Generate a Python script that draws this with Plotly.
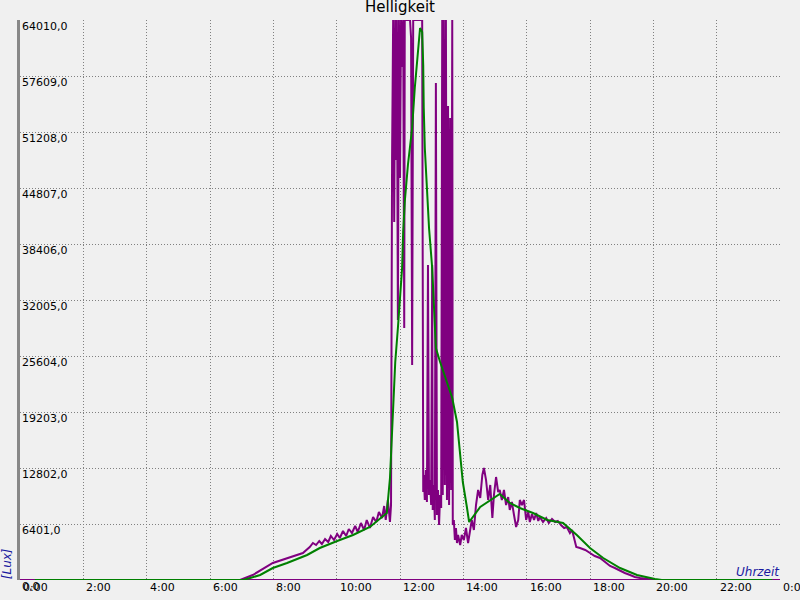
import plotly.graph_objects as go

# --- data (time in minutes since midnight, brightness in lux) ---
green_min = [28, 423, 436, 455, 479, 506, 544, 568, 601, 631, 663, 695, 701, 705, 707, 711, 716, 720,
             724, 726, 729, 735, 743, 748, 754, 758, 762, 764, 765, 767, 771, 775, 781, 784, 788, 796,
             809, 819, 828, 834, 839, 847, 851, 872, 891, 909, 928, 947, 972, 999, 1029, 1055, 1080,
             1105, 1137, 1169, 1203, 1216, 1425]
green_lux = [0, 0, 229, 572, 1372, 1943, 2858, 3658, 4458, 5144, 6058, 7658, 11659, 16574, 20003, 24919,
             28804, 32233, 35663, 39778, 43207, 47436, 51666, 56238, 60810, 63096, 62639, 58866, 53951,
             49380, 44808, 40235, 35663, 32233, 26518, 24919, 22632, 20803, 18060, 14631, 11202, 8230,
             6630, 8344, 9144, 9830, 8801, 8230, 7658, 6858, 6515, 5144, 3658, 2515, 1372, 572, 114, 0, 0]

purple_min = [0, 28, None,
              417, 441, 479, 506, 536, 549, 555, 561, 567, 572, 578, 584, 589, 595, 601, 606, 612, 618,
              623, 629, 635, 640, 646, 652, 657, 663, 669, 675, 680, 686, 690, 693, 697, 701, 703,
              705, 707, 709, 711, 712, 714, 716, 718, 720, 722, 724, 726, 728, 729, 739, 741, 743, 745,
              762, 764, 765, 767, 769, 771, 773, 775, 777, 779, 781, 782, 784, 786, 788, 790, 792, 794,
              796, 798, 800, 801, 803, 805, 807, 809, 811, 813, 815, 817, 819, 820, 822, 824, 826, 828,
              830, 834, 837, 841, 845, 849, 853, 856, 860, 864, 868, 872, 876, 879, 883, 887, 891, 895,
              898, 902, 906, 909, 913, 917, 921, 925, 928, 932, 936, 940, 944, 947, 951, 955, 959, 963,
              966, 970, 974, 978, 982, 985, 991, 997, 1002, 1008, 1014, 1019, 1025, 1031, 1036, 1042,
              1046, 1050, 1054, 1061, 1071, 1080, 1089, 1099, 1108, 1118, 1127, 1137, 1146, 1156, 1165,
              1175, 1194, 1203, 1425, None, 1425, 1440]
purple_lux = [0, 0, None,
              0, 572, 1943, 2515, 3086, 3772, 4229, 4001, 4458, 4115, 4687, 4344, 5029, 4572, 5258, 4801,
              5601, 5029, 5830, 5372, 6172, 5487, 6515, 5715, 6858, 5944, 7201, 6630, 7773, 7087, 8459,
              6858, 9144, 6630, 8573,
              48351, 64010, 40921, 64010, 48008, 64010, 29719, 64010, 45950, 64010, 58638, 64010, 28804,
              64010, 64010, 61953, 24576, 64010,
              64010, 10059, 12002, 9144, 12573, 8916, 36006, 9716, 11430, 8573, 36006, 8001, 10859, 6858,
              56810, 7430, 10287, 6287, 9716, 8230, 64010, 9716, 64010, 10859, 64010, 9144, 54180, 8573,
              52808, 10287, 64010, 6287, 6858, 4572, 5944, 4229,
              5144, 4001, 5144, 4572, 5944, 4229, 5715, 6858, 5715, 8573, 10287, 9373, 12002, 12802,
              11430, 9144, 10859, 7087, 9716, 11773, 10059, 10287, 9144, 10287, 8573, 9487, 8001, 8916,
              7430, 6058, 6858, 9144, 8573, 9144, 6858, 7773, 6630, 7544, 6858, 7658, 6744, 7201, 6630,
              7087, 6515, 6972, 6630, 6744, 6287, 5944, 6058, 5372, 5715, 4572, 3772, 3658, 3429, 3086,
              2743, 2515, 2057, 1600, 1372, 1029, 800, 572, 343, 229, 114, 0, 0, None, 0, 0]

base_min = [0, 1440]
base_lux = [0, 0]

x_ticks = [0, 120, 240, 360, 480, 600, 720, 840, 960, 1080, 1200, 1320, 1440]
x_labels = ["0:00", "2:00", "4:00", "6:00", "8:00", "10:00", "12:00", "14:00", "16:00",
            "18:00", "20:00", "22:00", "0:00"]
y_ticks = [0, 6401, 12802, 19203, 25604, 32005, 38406, 44807, 51208, 57609, 64010]
y_labels = ["0,0", "6401,0", "12802,0", "19203,0", "25604,0", "32005,0", "38406,0",
            "44807,0", "51208,0", "57609,0", "64010,0"]

PURPLE = "#800080"
GREEN = "#008000"
FONT = "DejaVu Sans"

fig = go.Figure()
fig.add_trace(go.Scatter(x=base_min, y=base_lux, mode="lines",
                         line=dict(color=PURPLE, width=2), hoverinfo="skip"))
fig.add_trace(go.Scatter(x=purple_min, y=purple_lux, mode="lines",
                         line=dict(color=PURPLE, width=2), connectgaps=False))
fig.add_trace(go.Scatter(x=green_min, y=green_lux, mode="lines",
                         line=dict(color=GREEN, width=2)))

annotations = []
for v, t in zip(y_ticks, y_labels):
    annotations.append(dict(x=0, xref="paper", y=v, yref="y", text=t, showarrow=False,
                            xanchor="left", yanchor="top", xshift=0, yshift=2,
                            font=dict(family=FONT, size=11, color="#000000")))
for v, t in zip(x_ticks, x_labels):
    annotations.append(dict(x=v, xref="x", y=0, yref="paper", text=t, showarrow=False,
                            xanchor="left", yanchor="top", xshift=1, yshift=1,
                            font=dict(family=FONT, size=11, color="#000000")))
annotations.append(dict(x=0, xref="paper", y=0.03, yref="paper", text="<i>[Lux]</i>",
                        showarrow=False, textangle=-90, xanchor="right", yanchor="middle",
                        xshift=-4, font=dict(family=FONT, size=12, color="#1a1aa0")))
annotations.append(dict(x=1, xref="paper", y=0, yref="paper", text="<i>Uhrzeit</i>",
                        showarrow=False, xanchor="right", yanchor="bottom", xshift=2, yshift=-1,
                        font=dict(family=FONT, size=12, color="#1a1aa0")))

fig.update_layout(
    width=800, height=600,
    margin=dict(l=20, r=20, t=20, b=20),
    paper_bgcolor="#f0f0f0", plot_bgcolor="#f0f0f0",
    showlegend=False,
    title=dict(text="Helligkeit", x=0.5, xanchor="center", y=0.997, yanchor="top",
               font=dict(family=FONT, size=15, color="#000000")),
    annotations=annotations,
    xaxis=dict(range=[0, 1440], tickvals=x_ticks, showticklabels=False, ticks="",
               showgrid=True, gridcolor="#808080", griddash="1px,2px", gridwidth=1,
               zeroline=False, showline=False),
    yaxis=dict(range=[0, 64010], tickvals=y_ticks, showticklabels=False, ticks="",
               showgrid=True, gridcolor="#808080", griddash="1px,2px", gridwidth=1,
               zeroline=False, showline=True, linecolor="#888888", linewidth=3),
)

fig.write_html("out.html", config={"displayModeBar": False},
               post_script="document.body.style.margin='0';document.body.style.padding='0';"
                           "document.body.style.background='#f0f0f0';")
